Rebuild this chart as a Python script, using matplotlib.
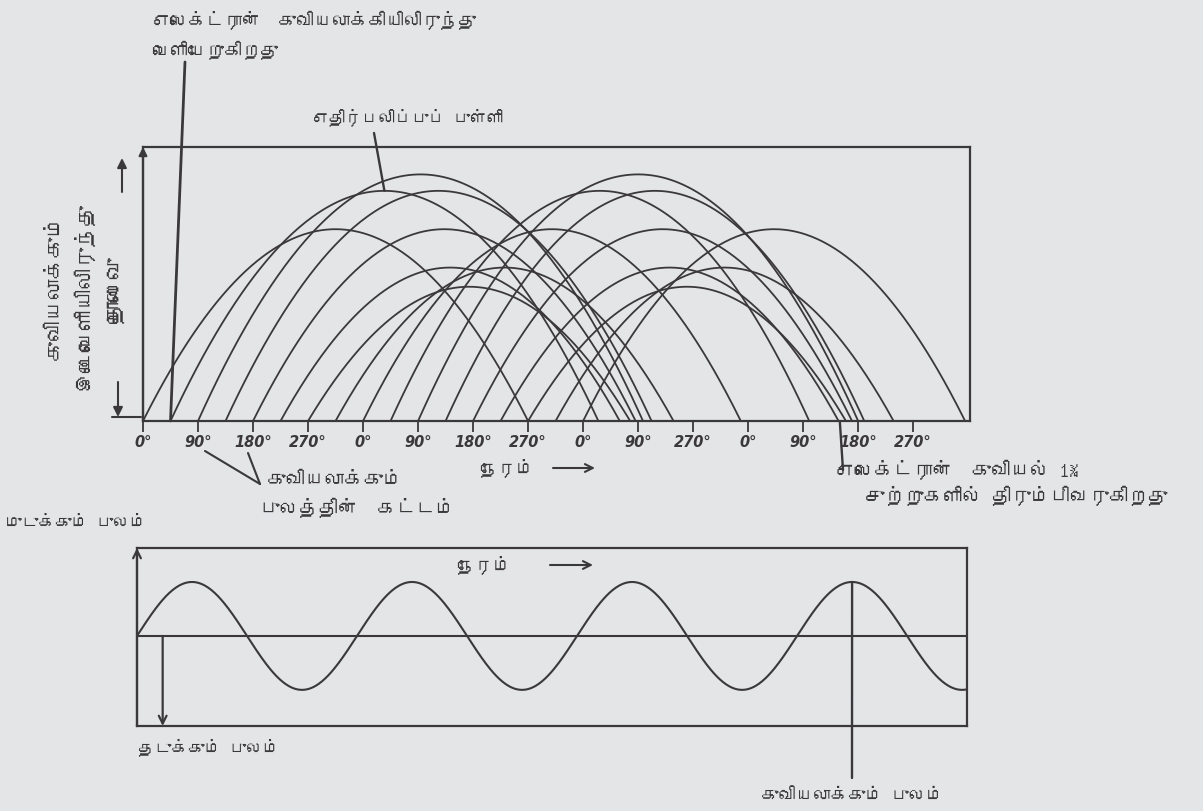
import numpy as np
import matplotlib
matplotlib.use('Agg')
import matplotlib.pyplot as plt
from matplotlib import font_manager
from matplotlib.ft2font import FT2Font

W, H = 1203, 811
BG = '#e3e5e7'
INK = '#3b383b'

# Applegate diagram: departure phase, return phase and depth of each electron
depart_deg = [0, 45, 90, 135, 180, 225, 270, 315, 360,
              405, 450, 495, 540, 585, 630, 675, 720]
return_deg = [630, 745, 818, 832, 806, 780, 797, 868, 978,
              1090, 1170, 1180, 1160, 1138, 1150, 1228, 1345]
peak_height = [0.70, 0.84, 0.90, 0.84, 0.70, 0.56, 0.49, 0.56, 0.70,
               0.84, 0.90, 0.84, 0.70, 0.56, 0.49, 0.56, 0.70]

tick_deg = list(range(0, 1261, 90))
tick_labels = ['0°', '90°', '180°', '270°', '0°', '90°', '180°', '270°',
               '0°', '90°', '270°', '0°', '90°', '180°', '270°']
top_xmax = 1353
bunch_return_deg = 1140

# repeller / bunching field
field_period_deg = 360
field_amplitude = 1.0
bottom_xmax = 1358
field_peak_deg = 1170


def tamil_family():
    for f in font_manager.fontManager.ttflist:
        try:
            if ord('த') in FT2Font(f.fname).get_charmap():
                return f.name
        except Exception:
            pass
    return None


fam = tamil_family()
FAMILY = [fam, 'DejaVu Sans'] if fam else ['DejaVu Sans']
plt.rcParams['font.family'] = FAMILY


def px(x, y):
    return x / W, 1 - y / H


def box(l, t, r, b):
    return [l / W, 1 - b / H, (r - l) / W, (b - t) / H]


fig = plt.figure(figsize=(W / 100, H / 100), dpi=100, facecolor=BG)

# ---- top panel: electron trajectories
ax = fig.add_axes(box(143, 147, 970, 421))
ax.set_facecolor('none')
for s, e, h in zip(depart_deg, return_deg, peak_height):
    x = np.linspace(s, e, 200)
    y = 4 * h * (x - s) * (e - x) / (e - s) ** 2
    ax.plot(x, y, color=INK, lw=1.3)
ax.set_xlim(0, top_xmax)
ax.set_ylim(0, 1)
for sp in ax.spines.values():
    sp.set_color(INK)
    sp.set_linewidth(1.6)
ax.set_yticks([])
ax.set_xticks(tick_deg)
ax.set_xticklabels(tick_labels, fontsize=10.5, fontweight='bold', style='italic',
                   family='DejaVu Sans', color=INK)
ax.tick_params(axis='x', direction='out', length=8, width=1.3, color=INK, pad=2)
ax.annotate('', xy=(0, 1), xycoords='axes fraction', xytext=(0, 0),
            arrowprops=dict(arrowstyle='-|>', color=INK, lw=1.6, mutation_scale=12,
                            shrinkA=0, shrinkB=0))

pointer = dict(arrowstyle='-', color=INK, lw=1.7, shrinkA=0, shrinkB=0)
ax.annotate('', xy=(depart_deg[1], 0), xytext=px(185, 62),
            textcoords='figure fraction', arrowprops=dict(pointer, lw=2),
            annotation_clip=False)
ax.annotate('', xy=((depart_deg[1] + return_deg[1]) / 2, peak_height[1]),
            xytext=px(374, 133), textcoords='figure fraction',
            arrowprops=pointer, annotation_clip=False)
ax.annotate('', xy=(bunch_return_deg, 0), xytext=px(843, 470),
            textcoords='figure fraction', arrowprops=pointer, annotation_clip=False)

# ---- bottom panel: field
ax2 = fig.add_axes(box(137, 548, 967, 726))
ax2.set_facecolor('none')
xs = np.linspace(0, bottom_xmax, 800)
ax2.plot(xs, field_amplitude * np.sin(np.radians(xs) * 360 / field_period_deg),
         color=INK, lw=1.5)
ax2.axhline(0, color=INK, lw=1.5)
ax2.set_xlim(0, bottom_xmax)
ax2.set_ylim(-1.67, 1.63)
ax2.set_xticks([])
ax2.set_yticks([])
for sp in ax2.spines.values():
    sp.set_color(INK)
    sp.set_linewidth(1.6)
ax2.annotate('', xy=(0, 1), xycoords='axes fraction', xytext=(0, 0),
             arrowprops=dict(arrowstyle='->', color=INK, lw=1.6, mutation_scale=14,
                             shrinkA=0, shrinkB=0))
ax2.annotate('', xy=(42, -1.67), xytext=(42, 0),
             arrowprops=dict(arrowstyle='->', color=INK, lw=1.6, mutation_scale=14,
                             shrinkA=0, shrinkB=0))
ax2.annotate('', xy=(field_peak_deg, field_amplitude), xytext=px(852, 778),
             textcoords='figure fraction', arrowprops=pointer, annotation_clip=False)

# ---- text
def txt(x, y, s, size=12.5, **kw):
    fig.text(*px(x, y), s, fontsize=size, color=INK, va='center', **kw)


txt(152, 20, 'எலெக்ட்ரான்  குவியலாக்கியிலிருந்து', 13, fontweight='bold')
txt(152, 50, 'வெளியேறுகிறது', 13, fontweight='bold')
txt(312, 117, 'எதிர்பலிப்புப் புள்ளி', 12, fontweight='bold')
txt(55, 287, 'குவியலாக்கும்', 15, rotation=90, ha='center')
txt(83, 296, 'இடைவெளியிலிருந்து', 15, rotation=90, ha='center')
txt(116, 290, 'தொலைவு', 16, rotation=90, ha='center')
txt(480, 468, 'நேரம்', 13)
txt(267, 480, 'குவியலாக்கும்', 14)
txt(260, 508, 'புலத்தின்  கட்டம்', 14)
txt(5, 522, 'முடுக்கும் புலம்', 12)
txt(835, 470, 'எலெக்ட்ரான்  குவியல் 1¾', 14)
txt(865, 496, 'சுற்றுகளில் திரும்பிவருகிறது', 14, fontweight='bold')
txt(457, 565, 'நேரம்', 13)
txt(138, 747, 'தடுக்கும் புலம்', 12)
txt(852, 795, 'குவியலாக்கும் புலம்', 12.5, ha='center')

arrow = dict(arrowstyle='->', color=INK, lw=1.5, mutation_scale=14, shrinkA=0, shrinkB=0)
bare = dict(arrowstyle='-', color=INK, lw=1.5, shrinkA=0, shrinkB=0)
for a, b, st in [((553, 468), (595, 468), arrow), ((550, 565), (593, 565), arrow),
                 ((122, 192), (122, 158), dict(arrow, arrowstyle='-|>')),
                 ((118, 382), (118, 417), dict(arrow, arrowstyle='-|>')),
                 ((112, 417), (141, 417), bare),
                 ((205, 451), (260, 484), bare), ((248, 453), (260, 484), bare)]:
    fig.add_artist(matplotlib.patches.FancyArrowPatch(px(*a), px(*b),
                   transform=fig.transFigure, **st))

fig.savefig('out.png', dpi=100, facecolor=BG)
